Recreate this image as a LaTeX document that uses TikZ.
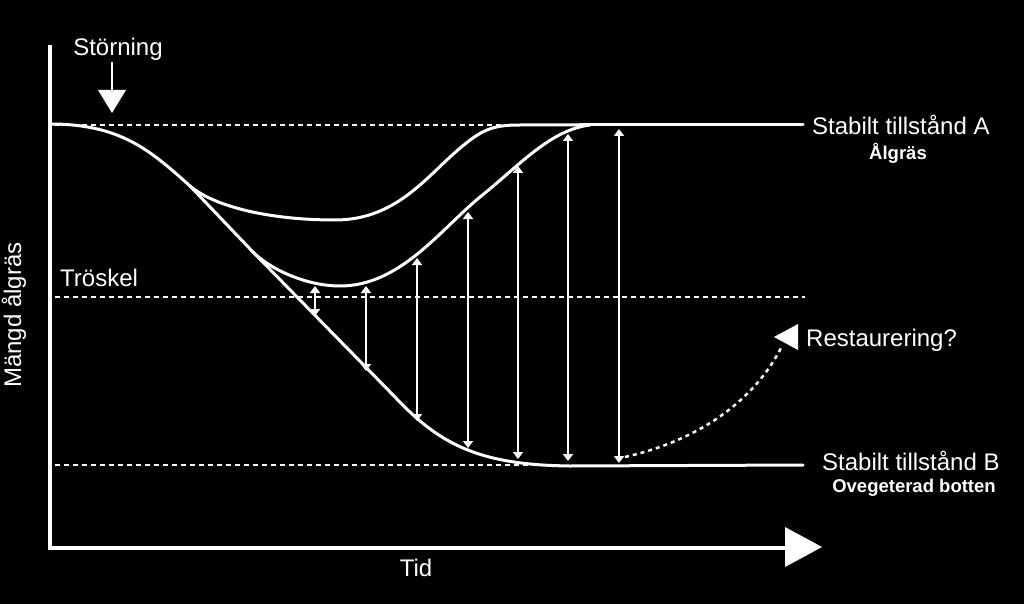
\documentclass[tikz,border=0pt]{standalone}
\usepackage{fontspec}
\setmainfont{Liberation Sans}
\usetikzlibrary{arrows.meta}
\begin{document}
\begin{tikzpicture}[x=1pt,y=-1pt,
  curveline/.style={white,line width=3pt,line cap=round},
  dotline/.style={white,line width=2.6pt,dash pattern=on 5pt off 4pt},
  darrow/.style={white,line width=2pt,{Triangle[width=10pt,length=7pt]}-{Triangle[width=10pt,length=7pt]}},
  big/.style={white,inner sep=0pt,font=\fontsize{24}{28}\selectfont},
  small/.style={white,inner sep=0pt,font=\fontsize{18.5}{22}\selectfont\bfseries}]
\fill[black] (0,0) rectangle (1024,604);
\useasboundingbox (0,0) rectangle (1024,604);
% axes
\coordinate (o) at (50,548);
\coordinate (ytop) at (50,45);
\coordinate (xend) at (785,548);
\draw[white,line width=3.5pt] (ytop) -- (o) -- (xend);
\fill[white] (785,527) -- (822,547) -- (785,567) -- cycle;
% dotted lines
\draw[dotline] (55,125) -- (580,125);
\draw[dotline] (55,297) -- (805,297);
\draw[dotline] (55,465) -- (560,465);
% solid level lines
\draw[curveline] (580,125) -- (803,125);
% branch points
\coordinate (b1) at (190,186);
\coordinate (b2) at (252,251);
% lower curve
\draw[curveline] (50,124) .. controls (120,124) and (150,150) .. (b1)
  -- (b2) -- (395,397) .. controls (440,445) and (480,465) .. (570,466) -- (803,465);
% upper curve
\draw[curveline] (b1) .. controls (215,207) and (270,220) .. (335,220)
  .. controls (390,220) and (420,185) .. (450,157)
  .. controls (480,130) and (490,125) .. (520,125) -- (580,125);
% middle curve
\draw[curveline] (b2) .. controls (268,268) and (305,286) .. (340,286)
  .. controls (400,286) and (440,230) .. (480,197)
  .. controls (520,165) and (550,130) .. (590,125);
% vertical double arrows
\draw[darrow] (315,286) -- (315,316);
\draw[darrow] (366,286) -- (366,371);
\draw[darrow] (417,258) -- (417,421);
\draw[darrow] (468,212) -- (468,448);
\draw[darrow] (518,166) -- (518,459);
\draw[darrow] (568,134) -- (568,461);
\draw[darrow] (619,129) -- (619,463);
% restoration dotted curve
\draw[white,line width=2.5pt,dash pattern=on 4pt off 4pt] (625,457) .. controls (700,440) and (755,400) .. (782,346);
\fill[white] (774,337) -- (798,324) -- (798,350) -- cycle;
% disturbance arrow
\coordinate (sa) at (112,62);
\draw[white,line width=2pt] (sa) -- (112,92);
\fill[white] (98,90) -- (126,90) -- (112,113) -- cycle;
% labels
\node[big] (stor) at (118,49) {Störning};
\node[big,anchor=west] (trosk) at (60,278) {Tröskel};
\node[big,rotate=90] (yl) at (14,315) {Mängd ålgräs};
\node[big] (tid) at (416,568) {Tid};
\node[big,anchor=west] (sa1) at (812,125) {Stabilt tillstånd A};
\node[small] (sa2) at (898,153) {Ålgräs};
\node[big,anchor=west] (sb1) at (822,461) {Stabilt tillstånd B};
\node[small] (sb2) at (914,488) {Ovegeterad botten};
\node[big,anchor=west] (rest) at (806,340) {Restaurering?};
\end{tikzpicture}
\end{document}
